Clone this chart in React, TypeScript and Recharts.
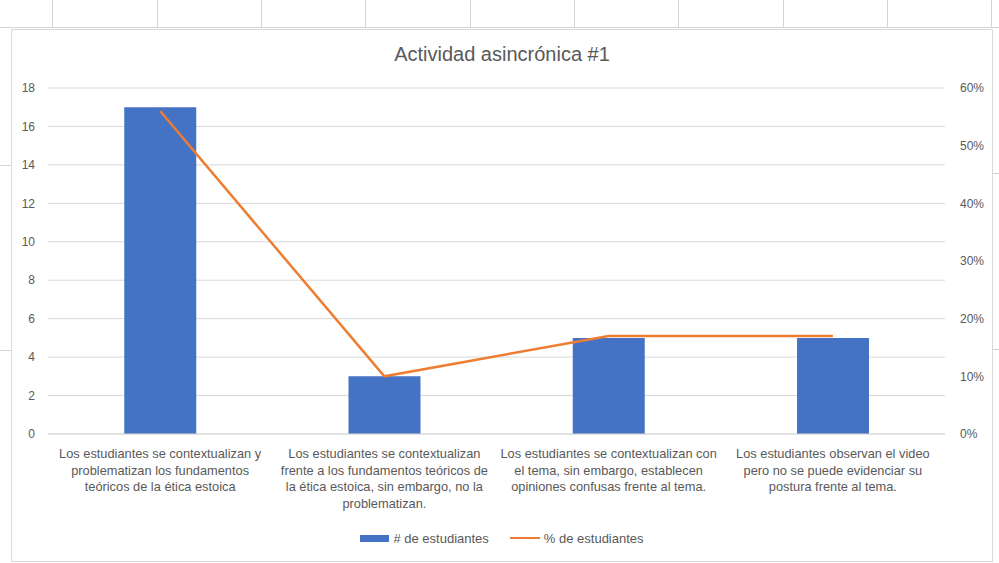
import React from "react";
import {
  ComposedChart,
  Bar,
  Line,
  XAxis,
  YAxis,
  CartesianGrid,
  Legend,
} from "recharts";

const categories = ["c1", "c2", "c3", "c4"];

const categoryLines = [
  ["Los estudiantes se contextualizan y", "problematizan los fundamentos", "teóricos de la ética estoica"],
  [
    "Los estudiantes se contextualizan",
    "frente a los fundamentos teóricos de",
    "la ética estoica, sin embargo, no la",
    "problematizan.",
  ],
  ["Los estudiantes se contextualizan con", "el tema, sin embargo, establecen", "opiniones confusas frente al tema."],
  ["Los estudiantes observan el video", "pero no se puede evidenciar su", "postura frente al tema."],
];

const studentCounts = [17, 3, 5, 5];
const studentPercents = [0.56, 0.1, 0.17, 0.17];

const countTicks = [0, 2, 4, 6, 8, 10, 12, 14, 16, 18];
const percentTicks = [0, 0.1, 0.2, 0.3, 0.4, 0.5, 0.6];

const BLUE = "#4472C4";
const ORANGE = "#ED7D31";
const TEXT = "#595959";
const GRID = "#d9d9d9";
const FONT = "'Liberation Sans', Arial, sans-serif";

const data = categories.map((c, i) => ({
  key: c,
  count: studentCounts[i],
  pct: studentPercents[i],
}));

function CategoryTick(props: any) {
  const { x, y, payload } = props;
  const lines = categoryLines[payload.index] || [];
  return (
    <text x={x} y={y} textAnchor="middle" fill={TEXT} fontSize={12.8} fontFamily={FONT}>
      {lines.map((l, i) => (
        <tspan key={i} x={x} dy={i === 0 ? 24 : 16.5}>
          {l}
        </tspan>
      ))}
    </text>
  );
}

function ChartLegend() {
  return (
    <div
      style={{
        display: "flex",
        justifyContent: "center",
        alignItems: "center",
        gap: 21,
        height: 20,
        fontFamily: FONT,
        fontSize: 13,
        color: TEXT,
      }}
    >
      <span style={{ display: "flex", alignItems: "center", gap: 4 }}>
        <span style={{ display: "inline-block", width: 29, height: 7, background: BLUE }} />
        # de estudiantes
      </span>
      <span style={{ display: "flex", alignItems: "center", gap: 4 }}>
        <span style={{ display: "inline-block", width: 30, height: 2, background: ORANGE }} />
        % de estudiantes
      </span>
    </div>
  );
}

// spreadsheet cells peeking around the chart object
const colLines = [52, 157, 261, 365, 470, 574, 678, 783, 887, 991];

export default function App() {
  return (
    <div
      style={{
        position: "absolute",
        left: 0,
        top: 0,
        width: 999,
        height: 563,
        background: "#fff",
        overflow: "hidden",
      }}
    >
      {colLines.map((x) => (
        <div key={x} style={{ position: "absolute", left: x, top: 0, width: 1, height: 27, background: "#d4d4d4" }} />
      ))}
      <div style={{ position: "absolute", left: 0, top: 27, width: 999, height: 1, background: "#d4d4d4" }} />
      <div style={{ position: "absolute", left: 0, top: 165, width: 11, height: 1, background: "#d4d4d4" }} />
      <div style={{ position: "absolute", left: 0, top: 350, width: 11, height: 1, background: "#d4d4d4" }} />
      <div style={{ position: "absolute", left: 993, top: 173, width: 6, height: 1, background: "#d4d4d4" }} />
      <div style={{ position: "absolute", left: 993, top: 349, width: 6, height: 1, background: "#d4d4d4" }} />

      <div
        style={{
          position: "absolute",
          left: 11,
          top: 29,
          width: 980,
          height: 531,
          border: "1px solid #d9d9d9",
          background: "#fff",
        }}
      >
        <div
          style={{
            position: "absolute",
            top: 13,
            width: "100%",
            textAlign: "center",
            fontFamily: FONT,
            fontSize: 20,
            color: TEXT,
          }}
        >
          Actividad asincrónica #1
        </div>
        <ComposedChart
          width={980}
          height={531}
          data={data}
          margin={{ top: 58, right: 0, left: 0, bottom: 13 }}
          barCategoryGap="34%"
        >
          <CartesianGrid stroke={GRID} vertical={false} yAxisId="left" />
          <XAxis
            dataKey="key"
            height={94}
            tick={<CategoryTick />}
            tickLine={false}
            axisLine={{ stroke: GRID }}
            tickSize={0}
            tickMargin={0}
            interval={0}
          />
          <YAxis
            yAxisId="left"
            width={36}
            domain={[0, 18]}
            ticks={countTicks}
            tickLine={false}
            axisLine={false}
            tickMargin={13}
            tickSize={0}
            tick={{ fontSize: 12, fill: TEXT, fontFamily: FONT }}
          />
          <YAxis
            yAxisId="right"
            orientation="right"
            width={47}
            domain={[0, 0.6]}
            ticks={percentTicks}
            tickLine={false}
            axisLine={false}
            tickMargin={15}
            tickSize={0}
            tickFormatter={(v) => `${Math.round(v * 100)}%`}
            tick={{ fontSize: 12, fill: TEXT, fontFamily: FONT, textAnchor: "start" }}
          />
          <Legend verticalAlign="bottom" content={<ChartLegend />} />
          <Bar yAxisId="left" dataKey="count" name="# de estudiantes" fill={BLUE} isAnimationActive={false} />
          <Line
            yAxisId="right"
            type="linear"
            dataKey="pct"
            name="% de estudiantes"
            stroke={ORANGE}
            strokeWidth={2.5}
            dot={false}
            isAnimationActive={false}
          />
        </ComposedChart>
      </div>
    </div>
  );
}
